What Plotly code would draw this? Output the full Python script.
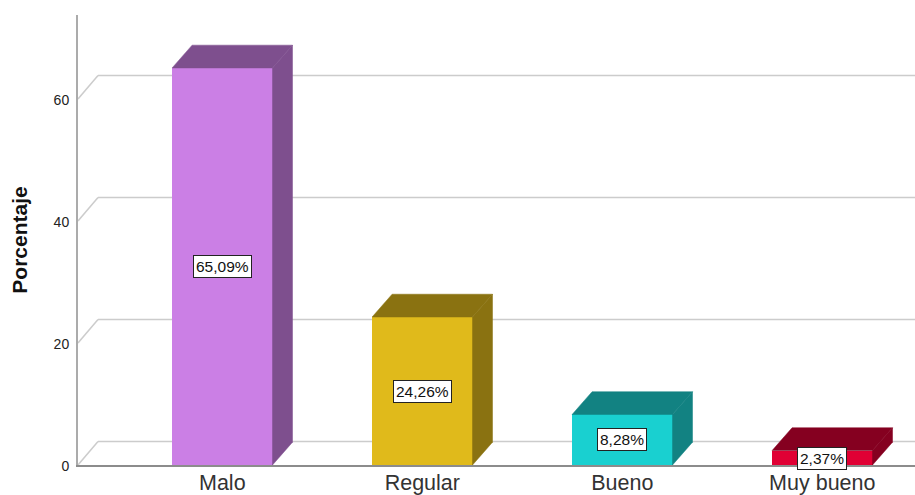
import plotly.graph_objects as go

categories = ["Malo", "Regular", "Bueno", "Muy bueno"]
percent = [65.09, 24.26, 8.28, 2.37]
labels = ["65,09%", "24,26%", "8,28%", "2,37%"]
front_colors = ["#CB7FE5", "#E0BA1B", "#19D0D0", "#E00034"]
dark_colors = ["#7E4F8E", "#8A7211", "#128282", "#850020"]
y_ticks = [0, 20, 40, 60]

W, H = 915, 495
L, R, T, B = 78, 0, 15, 30
PX_Y = 6.1      # pixels per percentage point
PX_X = 200.0    # pixels per category
X0 = 222.3      # pixel centre of the first category
DX = 20 / PX_X  # depth offset in data units
DY_GRID = 23.5 / PX_Y
DY = 22.8 / PX_Y
HALF = 50.2 / PX_X

x_range = [(L - X0) / PX_X, (W - R - X0) / PX_X]
y_range = [0, (H - B - T) / PX_Y]

fig = go.Figure()

# back-wall grid with floor/wall diagonals, kept below every trace
for t in y_ticks:
    fig.add_shape(type="line", layer="below", xref="x", yref="y",
                  x0=x_range[0], y0=t, x1=x_range[0] + DX, y1=t + DY_GRID,
                  line=dict(color="#CCCCCC", width=1.5))
    fig.add_shape(type="line", layer="below", xref="x", yref="y",
                  x0=x_range[0] + DX, y0=t + DY_GRID, x1=x_range[1], y1=t + DY_GRID,
                  line=dict(color="#CCCCCC", width=1.5))

for i, v in enumerate(percent):
    l, r = i - HALF, i + HALF
    # side face
    fig.add_trace(go.Scatter(
        x=[r, r + DX, r + DX, r, r], y=[0, DY, v + DY, v, 0],
        mode="lines", fill="toself", fillcolor=dark_colors[i],
        line=dict(color=dark_colors[i], width=0.5),
        hoverinfo="skip", showlegend=False))
    # top face
    fig.add_trace(go.Scatter(
        x=[l, l + DX, r + DX, r, l], y=[v, v + DY, v + DY, v, v],
        mode="lines", fill="toself", fillcolor=dark_colors[i],
        line=dict(color=dark_colors[i], width=0.5),
        hoverinfo="skip", showlegend=False))

# front faces
fig.add_trace(go.Bar(
    x=list(range(len(categories))), y=percent, width=2 * HALF,
    marker=dict(color=front_colors, line=dict(width=0)),
    showlegend=False))

# value labels
for i, v in enumerate(percent):
    fig.add_annotation(
        x=i, y=v / 2 if v > 5 else 1.0, text=labels[i], showarrow=False,
        font=dict(family="Liberation Sans", size=15.5, color="#111111"),
        bgcolor="white", bordercolor="#222222", borderwidth=1, borderpad=2)

fig.update_layout(
    width=W, height=H, margin=dict(l=L, r=R, t=T, b=B, autoexpand=False),
    paper_bgcolor="white", plot_bgcolor="white", bargap=0,
    font=dict(family="Liberation Sans", color="#222222"),
    xaxis=dict(
        range=x_range, tickmode="array", tickvals=list(range(len(categories))),
        ticktext=categories, showgrid=False, zeroline=False, showline=True,
        linecolor="#8C8C8C", linewidth=2, ticks="", ticklen=0,
        ticklabelstandoff=-3, tickfont=dict(size=21.5, color="#333333")),
    yaxis=dict(
        range=y_range, tickmode="array", tickvals=y_ticks, showgrid=False,
        zeroline=False, showline=True, linecolor="#ABABAB", linewidth=2,
        ticks="", ticklabelstandoff=4, ticklabelshift=1,
        tickfont=dict(size=14, color="#222222"),
        title=dict(text="<b>Porcentaje</b>", font=dict(size=21, color="#111111"),
                   standoff=20)),
)

fig.write_html("out.html", post_script="document.body.style.margin='0';",
               config=dict(displayModeBar=False))
